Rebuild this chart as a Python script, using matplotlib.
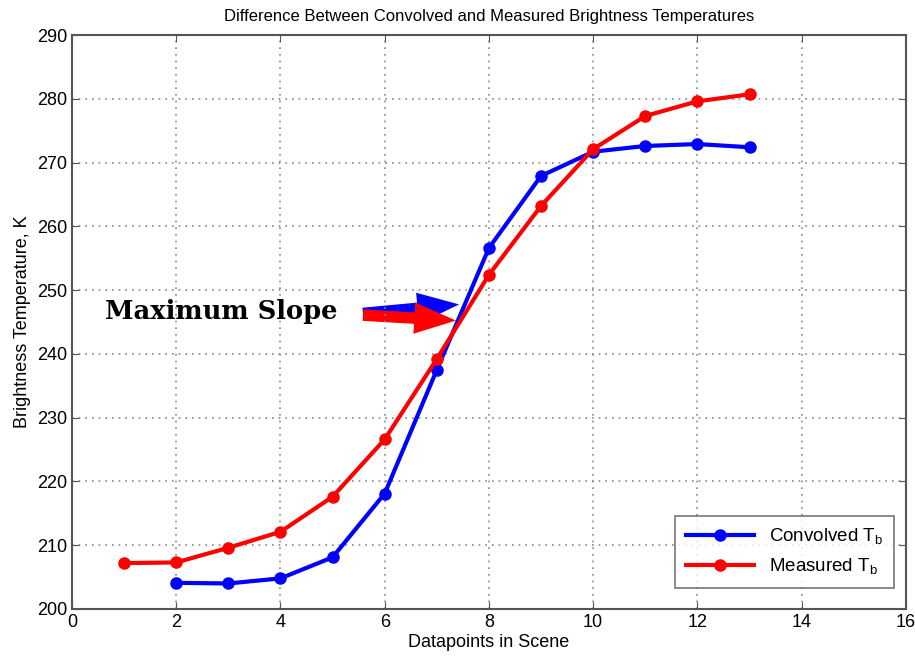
import numpy as np
import matplotlib.pyplot as plt
from matplotlib.patches import FancyArrowPatch

plt.rcParams['font.family'] = ['Liberation Sans Narrow', 'Liberation Sans', 'DejaVu Sans']

# Data
x_conv = [2, 3, 4, 5, 6, 7, 8, 9, 10, 11, 12, 13]
tb_conv = [204.1, 204.0, 204.8, 208.1, 218.1, 237.5, 256.6, 267.9, 271.7, 272.6, 272.9, 272.4]
x_meas = [1, 2, 3, 4, 5, 6, 7, 8, 9, 10, 11, 12, 13]
tb_meas = [207.2, 207.3, 209.6, 212.1, 217.6, 226.6, 239.2, 252.4, 263.2, 272.1, 277.3, 279.6, 280.7]

fig = plt.figure(figsize=(9.15, 6.58), dpi=100)
ax = fig.add_axes([0.0787, 0.0745, 0.9113, 0.8723])

ax.plot(x_conv, tb_conv, color='blue', lw=3, marker='o', ms=8, label='Convolved T$_\\mathregular{b}$')
ax.plot(x_meas, tb_meas, color='red', lw=3, marker='o', ms=8, label='Measured T$_\\mathregular{b}$')

ax.set_xlim(0, 16)
ax.set_ylim(200, 290)
ax.set_xticks(np.arange(0, 17, 2))
ax.set_yticks(np.arange(200, 291, 10))
ax.grid(True, linestyle=(0, (1, 3)), color='#888888', lw=1.2)
ax.tick_params(direction='in', top=True, right=True, labelsize=13, length=5, color='#555555')
for s in ax.spines.values():
    s.set_color('#555555')
    s.set_linewidth(1.5)

ax.set_title('Difference Between Convolved and Measured Brightness Temperatures', fontsize=12, pad=10)
ax.set_xlabel('Datapoints in Scene', fontsize=13, labelpad=2)
ax.set_ylabel('Brightness Temperature, K', fontsize=13, labelpad=4)

# annotation arrows
ax.text(0.63, 246.6, 'Maximum Slope', family='DejaVu Serif', fontweight='bold', fontsize=18.5,
        va='center', ha='left')
for (x0, y0, x1, y1, c) in [(5.53, 246.3, 7.48, 247.8, 'blue'), (5.53, 246.1, 7.42, 245.2, 'red')]:
    arr = FancyArrowPatch((x0, y0), (x1, y1), arrowstyle='simple,head_width=1.5,head_length=2.0,tail_width=0.55',
                          mutation_scale=15, color=c, lw=0)
    ax.add_patch(arr)

leg = ax.legend(loc='lower right', fontsize=13.5, fancybox=False, edgecolor='#555555',
                borderpad=0.6, handlelength=3.6, bbox_to_anchor=(0.997, 0.02))
leg.get_frame().set_linewidth(1.2)

plt.savefig('out.png')
